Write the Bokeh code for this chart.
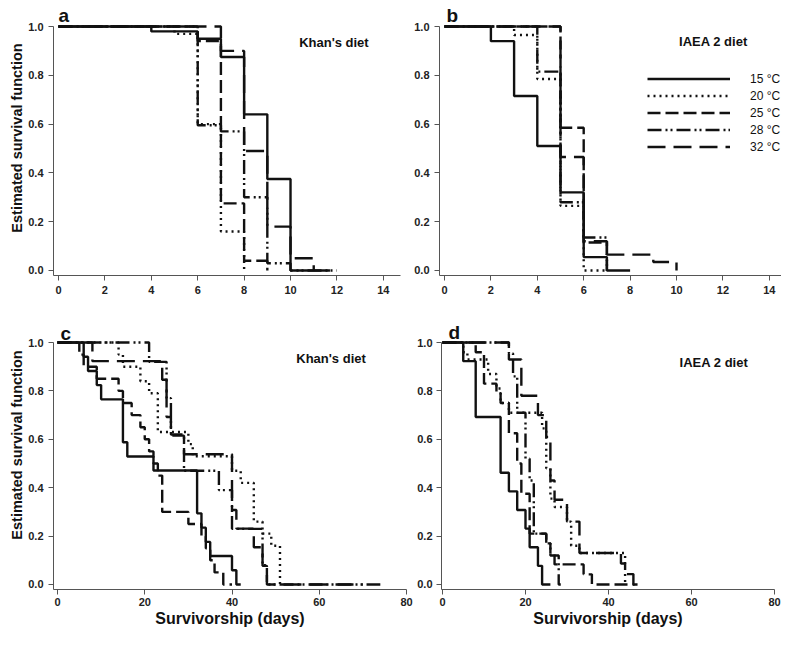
from bokeh.plotting import figure
from bokeh.models import (Label, Legend, LegendItem, FixedTicker, Range1d,
                          NumeralTickFormatter)
from bokeh.layouts import column, row
from bokeh.embed import file_html
from bokeh.resources import INLINE

# ---------------- data ----------------
temps = ["15 °C", "20 °C", "25 °C", "28 °C", "32 °C"]
short_ticks = [0, 2, 4, 6, 8, 10, 12, 14]
long_ticks = [0, 20, 40, 60, 80]
y_ticks = [0.0, 0.2, 0.4, 0.6, 0.8, 1.0]

# Panel a: Khan's diet (short)
a15_t = [0, 4, 6, 7, 8, 9, 10]
a15_s = [1, 0.98, 0.95, 0.875, 0.64, 0.375, 0.0]
a20_t = [0, 5, 6, 7, 8]
a20_s = [1, 0.97, 0.60, 0.16, 0.0]
a25_t = [0, 6, 7, 8, 9]
a25_s = [1, 0.94, 0.275, 0.04, 0.0]
a28_t = [0, 6, 7, 8, 9, 10]
a28_s = [1, 0.595, 0.57, 0.30, 0.03, 0.0]
a32_t = [0, 7, 8, 9, 10, 11]
a32_s = [1, 0.90, 0.49, 0.18, 0.05, 0.0]
a_end = [11.7, 8, 9, 12, 11]

# Panel b: IAEA 2 diet (short)
b15_t = [0, 2, 3, 4, 5, 6, 7]
b15_s = [1, 0.94, 0.715, 0.51, 0.32, 0.055, 0.0]
b20_t = [0, 3, 4, 5, 6]
b20_s = [1, 0.965, 0.785, 0.265, 0.0]
b25_t = [0, 5, 6, 7]
b25_s = [1, 0.585, 0.115, 0.0]
b28_t = [0, 4, 5, 6, 7]
b28_s = [1, 0.815, 0.28, 0.135, 0.0]
b32_t = [0, 5, 6, 7, 9, 10]
b32_s = [1, 0.465, 0.12, 0.065, 0.035, 0.0]
b_end = [8, 7, 7, 7, 10]

# Panel c: Khan's diet (long)
c15_t = [0, 6, 7, 9, 10, 15, 16, 22, 32, 33, 34, 35, 40, 41]
c15_s = [1, 0.941, 0.882, 0.824, 0.765, 0.588, 0.529, 0.471, 0.294, 0.235, 0.176, 0.118, 0.059, 0.0]
c20_t = [0, 14, 15, 19, 21, 23, 30, 31, 40, 42, 45, 47, 49, 51]
c20_s = [1, 0.95, 0.90, 0.84, 0.79, 0.63, 0.58, 0.53, 0.47, 0.42, 0.26, 0.21, 0.16, 0.0]
c25_t = [0, 5, 6, 9, 14, 15, 17, 19, 20, 21, 22, 23, 24, 30, 33, 34, 35, 36, 38]
c25_s = [1, 0.95, 0.90, 0.85, 0.80, 0.75, 0.70, 0.65, 0.60, 0.55, 0.50, 0.45, 0.30, 0.25, 0.20, 0.15, 0.10, 0.05, 0.0]
c28_t = [0, 21, 25, 26, 29, 37, 40, 47, 48]
c28_s = [1, 0.92, 0.77, 0.62, 0.47, 0.39, 0.23, 0.08, 0.0]
c32_t = [0, 8, 24, 25, 26, 29, 40, 41, 45, 47, 48]
c32_s = [1, 0.923, 0.846, 0.692, 0.615, 0.538, 0.308, 0.231, 0.154, 0.077, 0.0]
c_end = [42, 51, 40, 74, 70]

# Panel d: IAEA 2 diet (long)
d15_t = [0, 5, 8, 14, 16, 18, 20, 21, 23, 24]
d15_s = [1, 0.923, 0.692, 0.462, 0.385, 0.308, 0.231, 0.154, 0.077, 0.0]
d20_t = [0, 5, 6, 11, 13, 14, 16, 24, 25, 26, 27, 30, 31, 33, 44]
d20_s = [1, 0.96, 0.93, 0.87, 0.81, 0.75, 0.71, 0.645, 0.48, 0.355, 0.32, 0.26, 0.16, 0.13, 0.0]
d25_t = [0, 8, 10, 13, 14, 16, 18, 19, 21, 25, 26, 27, 34, 36]
d25_s = [1, 0.96, 0.83, 0.79, 0.75, 0.625, 0.5, 0.375, 0.21, 0.17, 0.125, 0.083, 0.042, 0.0]
d28_t = [0, 16, 17, 18, 20, 21, 22, 25, 26, 28]
d28_s = [1, 0.955, 0.86, 0.71, 0.52, 0.43, 0.21, 0.17, 0.12, 0.0]
d32_t = [0, 16, 19, 23, 25, 26, 27, 30, 33, 43, 44, 46]
d32_s = [1, 0.93, 0.78, 0.70, 0.61, 0.43, 0.35, 0.26, 0.13, 0.087, 0.043, 0.0]
d_end = [26, 44, 47, 28.5, 47]

# ---------------- styling ----------------
FONT = "Liberation Sans"
INK = "#111111"
AXIS = "#555555"
DASHES = ["solid", "2 4", "13 5", "14 4 2 3 2 4", "18 8"]
LW = 2.4


def make_fig(width, height, xr, yr, xticks, mbl, mbr, mbt, mbb, lab_standoff):
    p = figure(width=width, height=height, x_range=Range1d(*xr), y_range=Range1d(*yr),
               output_backend="svg", toolbar_location=None,
               min_border_left=mbl, min_border_right=mbr,
               min_border_top=mbt, min_border_bottom=mbb)
    p.outline_line_color = None
    p.grid.visible = False
    p.background_fill_color = "white"
    p.border_fill_color = "white"
    for ax in (p.xaxis[0], p.yaxis[0]):
        ax.axis_line_color = AXIS
        ax.axis_line_width = 1
        ax.major_tick_line_color = AXIS
        ax.major_tick_out = 5
        ax.major_tick_in = 0
        ax.minor_tick_line_color = None
        ax.major_label_text_font = FONT
        ax.major_label_text_font_style = "bold"
        ax.major_label_text_font_size = "11px"
        ax.major_label_text_color = "#222222"
        ax.axis_label_text_font = FONT
        ax.axis_label_text_font_style = "bold"
        ax.axis_label_text_color = INK
    p.xaxis.axis_label_text_font_size = "16px"
    p.yaxis.axis_label_text_font_size = "14.5px"
    p.xaxis.ticker = FixedTicker(ticks=xticks)
    p.yaxis.ticker = FixedTicker(ticks=y_ticks)
    p.yaxis.formatter = NumeralTickFormatter(format="0.0")
    p.yaxis.bounds = (yr[0], 1.0)
    p.xaxis.major_label_standoff = lab_standoff
    p.yaxis.major_label_standoff = 5
    return p


def draw(p, series, ends):
    rs = []
    for (t, s), e, dash in zip(series, ends, DASHES):
        xs = list(t) + [e]
        ys = list(s) + [s[-1]]
        r = p.step(xs, ys, mode="after", line_color=INK, line_width=LW,
                   line_dash=dash, line_cap="butt")
        rs.append(r)
    return rs


def text(p, x, y, s, size, align="center", baseline="middle"):
    p.add_layout(Label(x=x, y=y, text=s, text_font=FONT, text_font_size=size,
                       text_font_style="bold", text_color=INK,
                       text_align=align, text_baseline=baseline))


# ---------------- panels ----------------
TOP_Y = (-0.0205, 1.1066)
BOT_Y = (-0.0207, 1.1736)

pa = make_fig(410, 300, (-0.2155, 14.74), TOP_Y, short_ticks, 53, 10, 0, 25, 5)
draw(pa, [(a15_t, a15_s), (a20_t, a20_s), (a25_t, a25_s), (a28_t, a28_s), (a32_t, a32_s)], a_end)
pa.yaxis.axis_label = "Estimated survival function"
pa.yaxis.axis_label_standoff = 0
text(pa, 11.87, 0.934, "Khan's diet", "13px")
text(pa, 0.0, 1.045, "a", "19px", align="left", baseline="alphabetic")

pb = make_fig(371, 300, (-0.2155, 14.526), TOP_Y, short_ticks, 29, 0, 0, 25, 5)
rb = draw(pb, [(b15_t, b15_s), (b20_t, b20_s), (b25_t, b25_s), (b28_t, b28_s), (b32_t, b32_s)], b_end)
text(pb, 11.59, 0.939, "IAEA 2 diet", "13px")
text(pb, 0.09, 1.045, "b", "19px", align="left", baseline="alphabetic")
legend = Legend(items=[LegendItem(label=temps[i], renderers=[rb[i]]) for i in range(5)],
                location=(208, 120), orientation="vertical",
                glyph_width=83, glyph_height=17, label_height=17, spacing=0,
                label_standoff=20, padding=0, margin=0,
                border_line_alpha=0, background_fill_alpha=0,
                label_text_font=FONT, label_text_font_size="12px",
                label_text_color=INK)
pb.add_layout(legend)

pc = make_fig(414, 329, (-0.917, 80.0), BOT_Y, long_ticks, 53, 8, 0, 40, 3)
draw(pc, [(c15_t, c15_s), (c20_t, c20_s), (c25_t, c25_s), (c28_t, c28_s), (c32_t, c32_s)], c_end)
pc.yaxis.axis_label = "Estimated survival function"
pc.yaxis.axis_label_standoff = 0
pc.xaxis.axis_label = "Survivorship (days)"
pc.xaxis.axis_label_standoff = 1
text(pc, 62.7, 0.934, "Khan's diet", "13px")
text(pc, 0.69, 1.037, "c", "19px", align="left", baseline="alphabetic")

pd_ = make_fig(367, 329, (-0.24, 80.0), BOT_Y, long_ticks, 25, 7, 0, 40, 3)
pd_.yaxis.major_label_standoff = 4
draw(pd_, [(d15_t, d15_s), (d20_t, d20_s), (d25_t, d25_s), (d28_t, d28_s), (d32_t, d32_s)], d_end)
pd_.xaxis.axis_label = "Survivorship (days)"
pd_.xaxis.axis_label_standoff = 1
text(pd_, 65.4, 0.917, "IAEA 2 diet", "13px")
text(pd_, 1.44, 1.041, "d", "19px", align="left", baseline="alphabetic")

layout = column(row(pa, pb, spacing=0), row(pc, pd_, spacing=0), spacing=0)

open("out.html", "w").write(file_html(layout, INLINE))
